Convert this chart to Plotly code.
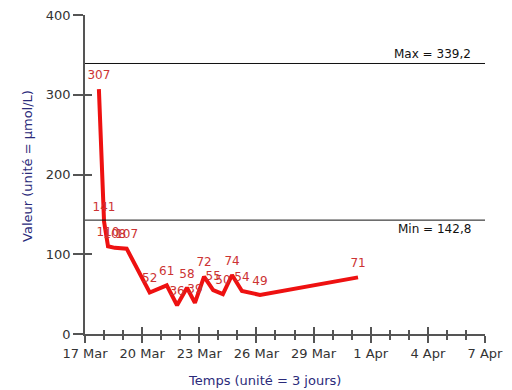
import plotly.graph_objects as go

# Measurement times and values (µmol/L)
times = [
    "2021-03-17 17:30", "2021-03-18 00:00", "2021-03-18 05:00", "2021-03-18 13:30",
    "2021-03-19 04:30", "2021-03-20 09:30", "2021-03-21 07:00", "2021-03-21 20:00",
    "2021-03-22 08:30", "2021-03-22 18:30", "2021-03-23 06:00", "2021-03-23 17:30",
    "2021-03-24 05:45", "2021-03-24 17:15", "2021-03-25 05:45", "2021-03-26 04:30",
    "2021-03-31 08:00",
]
values = [307, 141, 110, 108, 107, 52, 61, 36, 58, 39, 72, 55, 50, 74, 54, 49, 71]

# Reference limits
ref_max = 339.2
ref_min = 142.8

x_start = "2021-03-17"
x_end = "2021-04-07"
major_ticks = ["2021-03-17", "2021-03-20", "2021-03-23", "2021-03-26",
               "2021-03-29", "2021-04-01", "2021-04-04", "2021-04-07"]
y_ticks = [0, 100, 200, 300, 400]

x_title = "Temps (unité = 3 jours)"
y_title = "Valeur (unité = µmol/L)"

FONT = "DejaVu Sans, Verdana, sans-serif"
AXIS_COLOR = "#555555"
TITLE_COLOR = "#2b2b7a"
TEXT_COLOR = "#333333"
DAY_MS = 86400000

fig = go.Figure()

fig.add_trace(go.Scatter(
    x=times, y=values,
    mode="lines+markers+text",
    text=[str(v) for v in values],
    textposition="top center",
    textfont=dict(family=FONT, size=12, color="#cc3333"),
    marker=dict(size=10, opacity=0),
    line=dict(color="#ee1111", width=4),
    cliponaxis=False,
    hoverinfo="skip",
))

# invisible trace so the overlay axes are drawn
fig.add_trace(go.Scatter(x=[x_start], y=[0], xaxis="x2", yaxis="y2",
                         mode="markers", marker=dict(opacity=0), hoverinfo="skip"))

# reference limit lines
for val in (ref_max, ref_min):
    fig.add_shape(type="line", xref="x", yref="y", x0=x_start, x1=x_end,
                  y0=val, y1=val, line=dict(color="#111111", width=1))

fmt = lambda v: f"{v:.1f}".replace(".", ",")
fig.add_annotation(x=1, xref="paper", xanchor="right", xshift=-12,
                   y=ref_max, yref="y", yanchor="bottom",
                   text=f"Max = {fmt(ref_max)}", showarrow=False,
                   font=dict(family=FONT, size=12, color="#111111"))
fig.add_annotation(x=1, xref="paper", xanchor="right", xshift=-12,
                   y=ref_min, yref="y", yanchor="top",
                   text=f"Min = {fmt(ref_min)}", showarrow=False,
                   font=dict(family=FONT, size=12, color="#111111"))

# axis titles
fig.add_annotation(x=0.449, xref="paper", y=0, yref="paper", yanchor="middle",
                   yshift=-46, text=x_title, showarrow=False,
                   font=dict(family=FONT, size=13, color=TITLE_COLOR))
fig.add_annotation(x=0, xref="paper", xanchor="center", xshift=-57,
                   y=0.527, yref="paper", yanchor="middle", textangle=-90,
                   text=y_title, showarrow=False,
                   font=dict(family=FONT, size=13, color=TITLE_COLOR))

common_x = dict(type="date", range=[x_start, x_end], showgrid=False, zeroline=False,
                tickvals=major_ticks, tickcolor=AXIS_COLOR, ticklen=7, tickwidth=1.5,
                automargin=False)
common_y = dict(range=[0, 400], showgrid=False, zeroline=False,
                tickvals=y_ticks, tickcolor=AXIS_COLOR, tickwidth=1.5,
                automargin=False)

fig.update_layout(
    width=512, height=390,
    margin=dict(l=85, r=27, t=15, b=56),
    paper_bgcolor="white", plot_bgcolor="white",
    showlegend=False,
    font=dict(family=FONT, size=12, color=TEXT_COLOR),
    xaxis=dict(
        **common_x, ticks="outside", tickformat="%-d %b",
        showline=True, linecolor=AXIS_COLOR, linewidth=1.5,
        minor=dict(dtick=DAY_MS, tick0=x_start, ticks="outside", ticklen=4,
                   tickcolor=AXIS_COLOR, tickwidth=1.5),
        tickfont=dict(family=FONT, size=13, color=TEXT_COLOR),
    ),
    xaxis2=dict(
        **common_x, overlaying="x", anchor="y", side="bottom", ticks="inside",
        showticklabels=False, showline=False,
        minor=dict(dtick=DAY_MS, tick0=x_start, ticks="inside", ticklen=4,
                   tickcolor=AXIS_COLOR, tickwidth=1.5),
    ),
    yaxis=dict(
        **common_y, ticks="outside", ticklen=10,
        showline=True, linecolor=AXIS_COLOR, linewidth=1.5,
        tickfont=dict(family=FONT, size=13, color=TEXT_COLOR),
    ),
    yaxis2=dict(
        **common_y, overlaying="y", anchor="x", side="left", ticks="inside",
        ticklen=7, showticklabels=False, showline=False,
    ),
)

fig.write_html("out.html")
